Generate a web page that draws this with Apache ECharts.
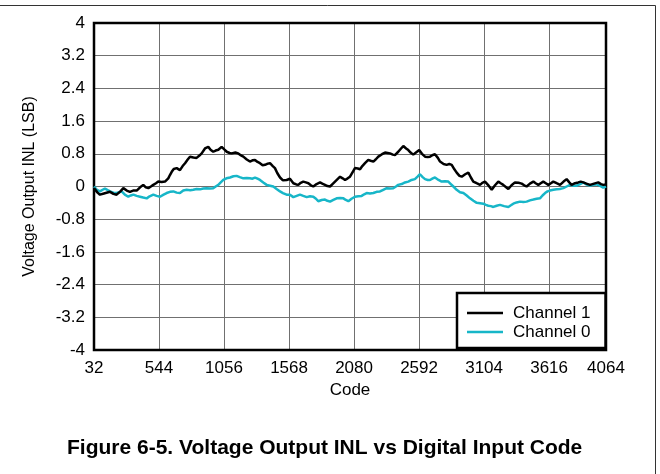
<!DOCTYPE html>
<html>
<head>
<meta charset="utf-8">
<script src="https://cdn.jsdelivr.net/npm/echarts@6/dist/echarts.min.js"></script>
<style>html,body{margin:0;padding:0;background:#fff}#c{width:660px;height:474px}</style>
</head>
<body>
<div id="c"></div>
<script>
// Channel 1 (black)
const ch1Code = [32,60,79,110,158,185,210,240,263,290,315,340,368,395,420,440,460,480,499,520,538,565,591,617,630,644,660,683,709,730,749,770,788,815,840,860,880,906,932,950,971,990,1011,1037,1060,1077,1100,1116,1145,1168,1190,1208,1235,1260,1280,1300,1320,1339,1360,1379,1400,1418,1440,1457,1475,1497,1520,1549,1575,1602,1625,1641,1660,1680,1700,1720,1740,1759,1785,1812,1830,1851,1870,1891,1910,1930,1950,1970,1990,2009,2030,2048,2070,2087,2110,2127,2145,2166,2192,2210,2232,2250,2271,2300,2324,2345,2363,2385,2402,2428,2450,2468,2490,2507,2525,2546,2570,2593,2615,2639,2660,2678,2700,2717,2740,2757,2785,2809,2830,2849,2870,2888,2910,2928,2955,2980,3000,3019,3045,3072,3090,3111,3140,3164,3190,3216,3235,3255,3275,3295,3320,3347,3375,3400,3420,3439,3465,3492,3510,3531,3550,3570,3590,3610,3630,3649,3675,3702,3730,3754,3775,3793,3820,3846,3865,3885,3910,3938,3970,4003,4025,4042,4064];
const ch1Inl = [-0.04,-0.15,-0.2,-0.17,-0.13,-0.18,-0.2,-0.12,-0.04,-0.1,-0.13,-0.1,-0.1,-0.02,0.04,-0.02,-0.04,0.0,0.04,0.08,0.12,0.11,0.12,0.2,0.28,0.36,0.43,0.45,0.4,0.5,0.57,0.66,0.73,0.71,0.7,0.75,0.81,0.93,0.97,0.9,0.85,0.88,0.9,0.97,0.9,0.85,0.82,0.81,0.83,0.81,0.76,0.73,0.66,0.61,0.64,0.65,0.6,0.57,0.52,0.53,0.56,0.57,0.5,0.45,0.33,0.22,0.15,0.16,0.19,0.08,0.05,0.04,0.09,0.12,0.1,0.08,0.03,0.0,0.06,0.1,0.07,0.04,0.01,0.0,0.06,0.12,0.18,0.24,0.2,0.16,0.2,0.24,0.36,0.45,0.44,0.42,0.5,0.57,0.65,0.63,0.61,0.66,0.73,0.79,0.83,0.82,0.81,0.78,0.77,0.85,0.93,0.99,0.93,0.89,0.83,0.78,0.84,0.89,0.8,0.73,0.72,0.73,0.77,0.79,0.7,0.61,0.55,0.53,0.55,0.53,0.42,0.34,0.26,0.24,0.3,0.34,0.22,0.12,0.08,0.04,0.09,0.12,0.02,-0.08,0.03,0.12,0.08,0.04,-0.01,-0.06,0.03,0.1,0.09,0.07,0.03,0.0,0.07,0.12,0.08,0.04,0.08,0.12,0.08,0.04,0.08,0.12,0.08,0.04,0.12,0.18,0.1,0.04,0.08,0.1,0.12,0.1,0.07,0.04,0.07,0.1,0.06,0.04,0.05];
// Channel 0 (cyan)
const ch0Code = [32,55,79,100,118,140,158,185,210,230,250,275,302,322,342,368,394,420,447,470,499,525,552,580,604,630,657,683,709,735,762,790,814,840,867,893,919,945,971,990,1011,1030,1050,1075,1103,1130,1155,1180,1208,1235,1260,1280,1300,1320,1339,1365,1392,1418,1444,1470,1497,1520,1549,1575,1602,1628,1654,1680,1707,1733,1759,1780,1798,1825,1851,1870,1891,1917,1943,1970,1996,2015,2035,2060,2087,2113,2140,2160,2179,2205,2232,2258,2284,2310,2337,2363,2389,2410,2428,2455,2481,2507,2533,2559,2580,2599,2620,2639,2660,2678,2700,2717,2745,2770,2796,2822,2842,2862,2888,2914,2941,2967,2993,3020,3046,3072,3098,3118,3137,3157,3177,3203,3229,3262,3295,3315,3334,3360,3387,3413,3439,3465,3492,3518,3544,3564,3584,3603,3623,3650,3675,3700,3728,3754,3780,3806,3833,3860,3885,3910,3938,3965,3990,4015,4042,4064];
const ch0Inl = [0.0,-0.08,-0.12,-0.08,-0.05,-0.09,-0.12,-0.15,-0.16,-0.14,-0.12,-0.2,-0.25,-0.22,-0.2,-0.23,-0.25,-0.27,-0.29,-0.24,-0.2,-0.23,-0.25,-0.2,-0.16,-0.13,-0.12,-0.15,-0.16,-0.1,-0.08,-0.09,-0.08,-0.06,-0.07,-0.05,-0.04,-0.05,-0.04,0.0,0.04,0.1,0.16,0.2,0.22,0.25,0.26,0.23,0.2,0.21,0.2,0.19,0.22,0.19,0.16,0.1,0.04,0.02,0.0,-0.06,-0.12,-0.16,-0.2,-0.2,-0.26,-0.23,-0.2,-0.23,-0.26,-0.24,-0.25,-0.3,-0.36,-0.33,-0.32,-0.35,-0.37,-0.33,-0.29,-0.28,-0.29,-0.33,-0.36,-0.3,-0.25,-0.24,-0.23,-0.19,-0.16,-0.17,-0.16,-0.13,-0.12,-0.08,-0.04,-0.05,-0.04,0.0,0.04,0.06,0.1,0.12,0.16,0.18,0.24,0.3,0.23,0.18,0.16,0.16,0.2,0.22,0.16,0.12,0.13,0.12,0.06,0.0,-0.08,-0.14,-0.16,-0.22,-0.29,-0.35,-0.4,-0.41,-0.42,-0.45,-0.47,-0.48,-0.5,-0.47,-0.45,-0.48,-0.5,-0.46,-0.42,-0.39,-0.37,-0.38,-0.37,-0.34,-0.32,-0.3,-0.29,-0.22,-0.16,-0.12,-0.1,-0.08,-0.07,-0.06,-0.04,0.0,0.04,0.02,0.02,0.06,0.1,0.05,0.02,0.04,0.05,0.02,-0.03,0.0];

const codeMin = 32, codeMax = 4064, codeStep = 512;
const yMin = -4, yMax = 4, yStep = 0.8;
const seriesNames = ['Channel 1', 'Channel 0'];
const titleText = 'Figure 6-5. Voltage Output INL vs Digital Input Code';
const xName = 'Code';
const yName = 'Voltage Output INL (LSB)';

const FONT = '"Liberation Sans", Arial, Helvetica, sans-serif';
const toPts = (codes, vals) => codes.map((c, i) => [c - codeMin, vals[i]]);

const chart = echarts.init(document.getElementById('c'), null, {renderer: 'canvas'});
chart.setOption({
  animation: false,
  backgroundColor: '#fff',
  textStyle: {fontFamily: FONT},
  grid: {left: 94, top: 23, width: 512, height: 327, show: true, borderColor: '#000', borderWidth: 2.5, backgroundColor: 'transparent', z: 3},
  title: {
    text: titleText, left: 62, top: 433,
    textStyle: {fontFamily: FONT, fontWeight: 'bold', fontSize: 21, color: '#000'}
  },
  legend: {
    left: 457, top: 293, orient: 'vertical',
    data: seriesNames,
    icon: 'rect',
    backgroundColor: '#fff', borderColor: '#000', borderWidth: 2.5,
    padding: [11, 15, 7, 10], itemGap: 1, itemWidth: 36, itemHeight: 2.5,
    textStyle: {fontFamily: FONT, fontSize: 17, color: '#000', lineHeight: 18, padding: [0, 0, 0, 5]},
    z: 10
  },
  xAxis: {
    type: 'value', min: 0, max: codeMax - codeMin, interval: codeStep,
    name: xName, nameLocation: 'middle', nameGap: 31,
    nameTextStyle: {fontFamily: FONT, fontSize: 17, color: '#000'},
    axisLine: {show: false}, axisTick: {show: false},
    axisLabel: {formatter: v => String(v + codeMin), fontFamily: FONT, fontSize: 17, color: '#000', margin: 10},
    splitLine: {show: true, lineStyle: {color: '#707070', width: 1}}
  },
  yAxis: {
    type: 'value', min: yMin, max: yMax, interval: yStep,
    name: yName, nameLocation: 'middle', nameGap: 56, nameRotate: 90,
    nameTextStyle: {fontFamily: FONT, fontSize: 16, color: '#000'},
    axisLine: {show: false}, axisTick: {show: false},
    axisLabel: {formatter: v => String(Math.round(v * 10) / 10), fontFamily: FONT, fontSize: 17, color: '#000', margin: 9},
    splitLine: {show: true, lineStyle: {color: '#707070', width: 1}}
  },
  series: [
    {name: seriesNames[0], type: 'line', data: toPts(ch1Code, ch1Inl), symbol: 'none', lineStyle: {color: '#000', width: 2.5}, itemStyle: {color: '#000'}, z: 5},
    {name: seriesNames[1], type: 'line', data: toPts(ch0Code, ch0Inl), symbol: 'none', lineStyle: {color: '#17b6c8', width: 2.5}, itemStyle: {color: '#17b6c8'}, z: 4}
  ],
  graphic: [
    {type: 'line', shape: {x1: 0, y1: 5.5, x2: 655.5, y2: 5.5}, style: {stroke: '#333', lineWidth: 1}},
    {type: 'line', shape: {x1: 655.5, y1: 5.5, x2: 655.5, y2: 474}, style: {stroke: '#333', lineWidth: 1}}
  ]
});
</script>
</body>
</html>
